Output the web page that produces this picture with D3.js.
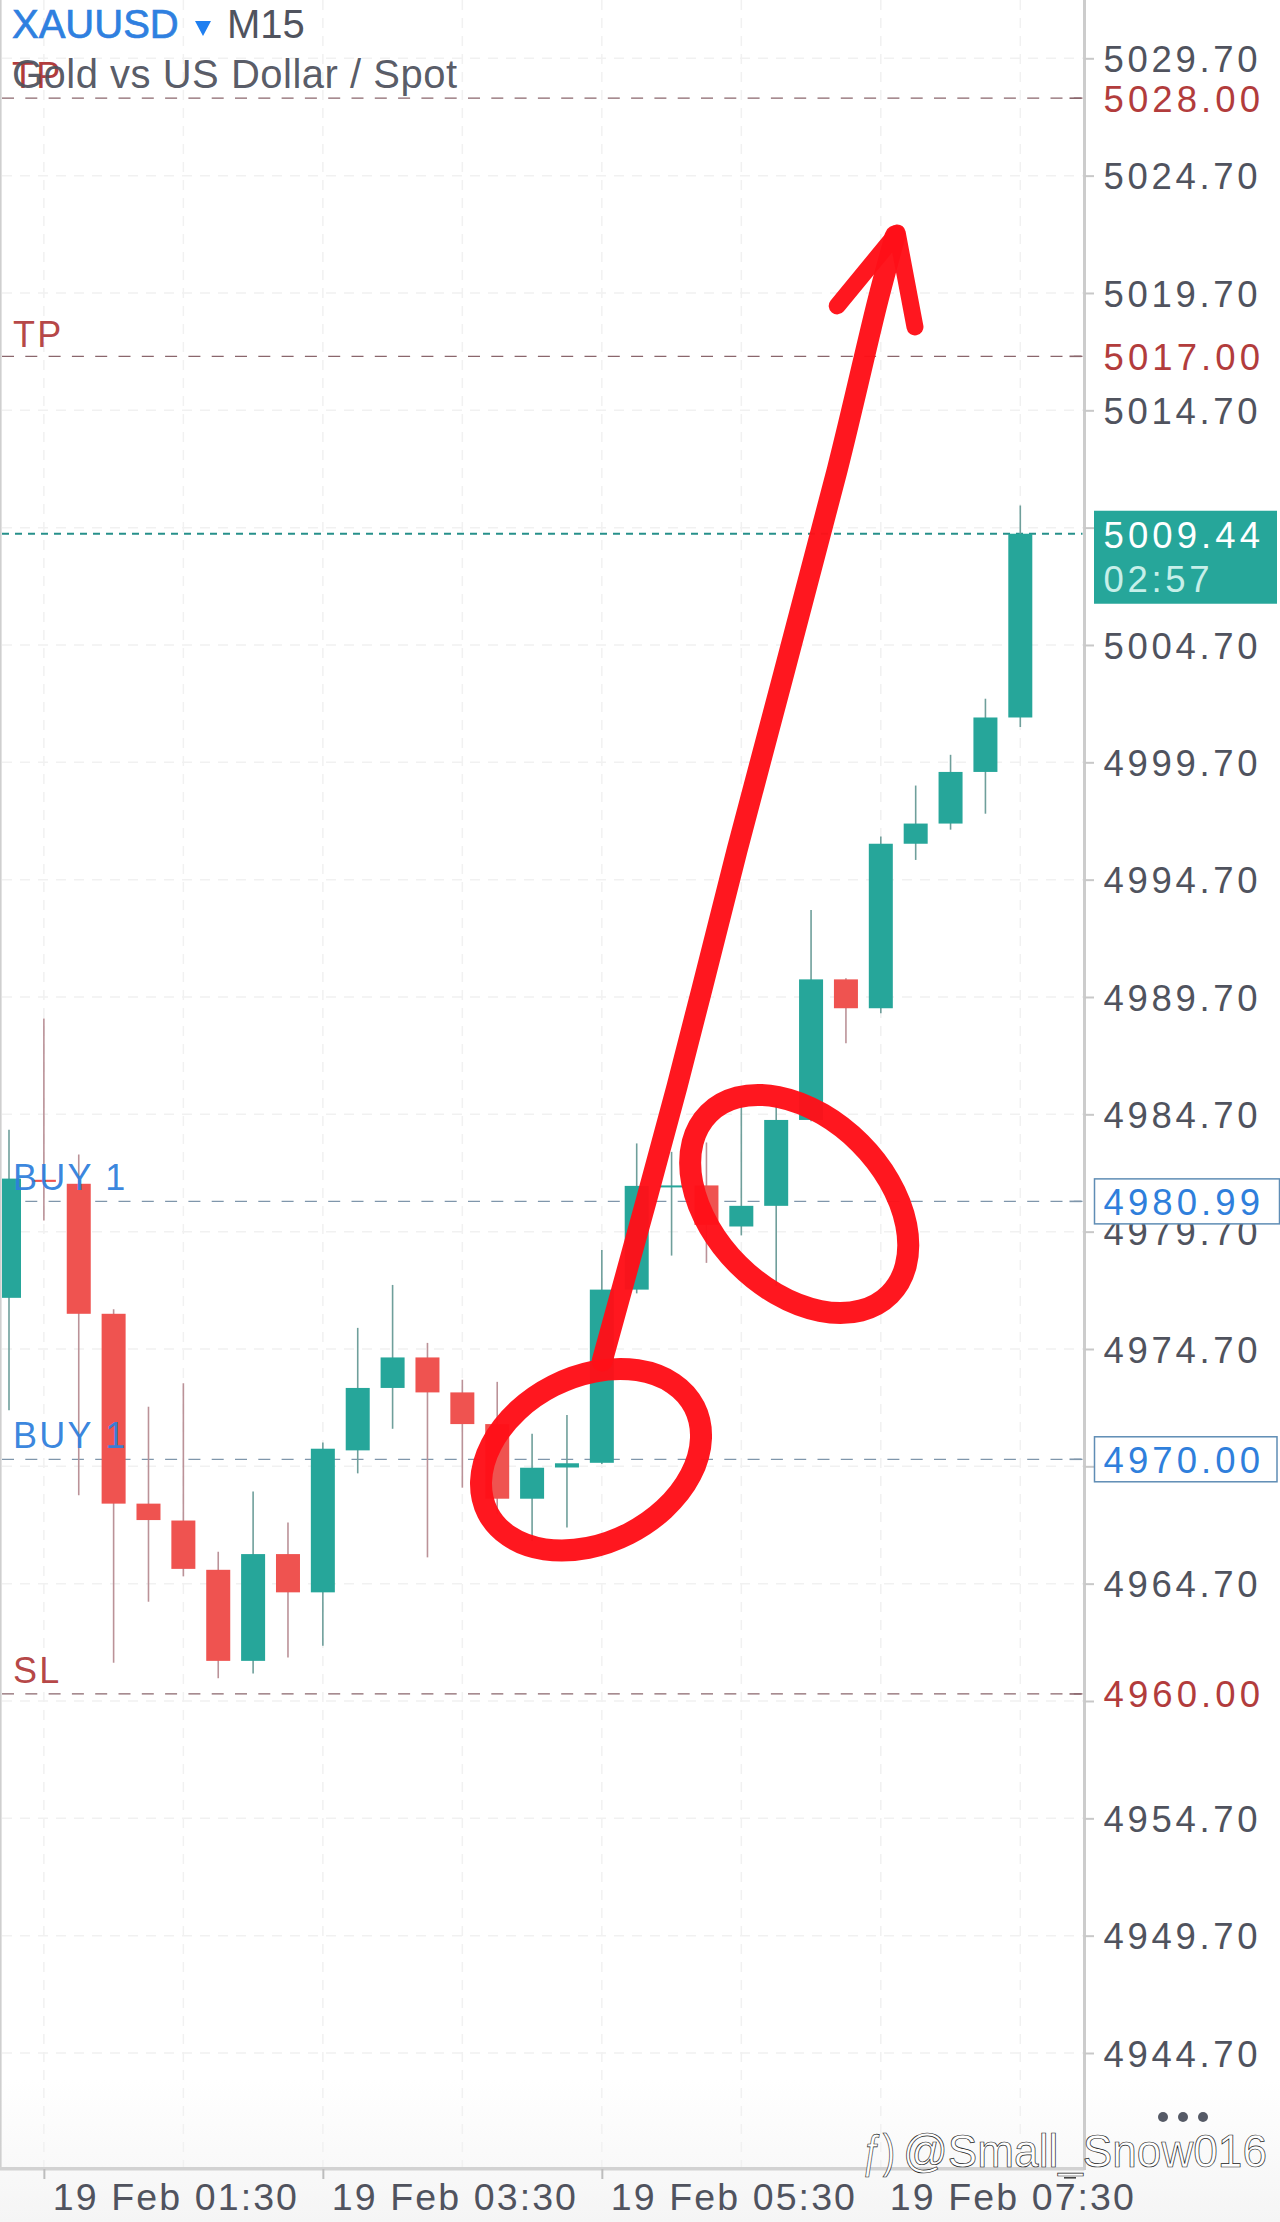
<!DOCTYPE html>
<html>
<head>
<meta charset="utf-8">
<script src="https://cdn.jsdelivr.net/npm/d3@7"></script>
<style>
html,body{margin:0;padding:0;background:#fff;}
svg{display:block;}
text{font-family:"Liberation Sans",Arial,sans-serif;}
</style>
</head>
<body>
<div id="chart"></div>
<script>
// ---- data ----
const opens  = [4976.88,4981.91,4981.74,4976.20,4968.11,4967.39,4965.29,4961.41,4965.96,4964.33,4970.38,4973.04,4974.34,4972.85,4971.50,4968.32,4969.65,4969.85,4977.23,4981.65,4981.67,4979.92,4980.80,4984.46,4990.45,4989.22,4996.23,4997.09,4999.29,5001.61];
const closes = [4981.96,4981.82,4976.20,4968.11,4967.41,4965.33,4961.41,4965.96,4964.33,4970.45,4973.04,4974.34,4972.85,4971.50,4968.32,4969.64,4969.83,4977.23,4981.65,4981.67,4979.99,4980.80,4984.46,4990.45,4989.22,4996.23,4997.09,4999.29,5001.61,5009.44];
const highs  = [4984.04,4988.78,4982.99,4976.39,4972.24,4973.24,4966.06,4968.63,4967.31,4970.72,4975.60,4977.43,4974.96,4973.39,4973.30,4971.09,4971.89,4978.92,4983.46,4983.10,4983.50,4985.11,4985.10,4993.41,4990.50,4996.54,4998.71,5000.02,5002.41,5010.64];
const lows   = [4972.09,4980.17,4968.47,4961.33,4963.93,4965.01,4960.67,4960.87,4961.55,4962.05,4969.40,4971.30,4965.82,4968.79,4967.65,4966.52,4967.09,4969.80,4977.07,4978.68,4978.37,4979.54,4977.37,4984.40,4987.73,4989.01,4995.54,4996.83,4997.51,5001.21];
const priceTicks = [5029.7,5024.7,5019.7,5014.7,5009.7,5004.7,4999.7,4994.7,4989.7,4984.7,4979.7,4974.7,4969.7,4964.7,4959.7,4954.7,4949.7,4944.7];
const hiddenPriceLabels = [5009.7,4969.7,4959.7]; // covered by price tags in the reference
const gridCandles = [1,5,9,13,17,21,25,29];
const timeCandles = [1,9,17,25];
const timeLabels = ["19 Feb 01:30","19 Feb 03:30","19 Feb 05:30","19 Feb 07:30"];
const orderLabels = ["TP","TP","BUY 1","BUY 1","SL"];
const orderPrices = [5028,5017,4980.99,4970,4960];
const orderKinds  = ["r","r","b","b","r"];
const lastPrice = 5009.44;
const countdown = "02:57";
// hand-drawn annotations, as [candle index, price]
const arrowShaft = [[17.01,4974.19],[19.16,4985.91],[20.88,4995.97],[23.75,5012.16],[24.92,5019.4],[25.41,5022.13]];
const arrowHead  = [[23.75,5019.15],[25.47,5022.26],[25.98,5018.25]];
const ringCentres = [[16.69,4969.98],[22.66,4980.88]];

// ---- layout ----
const W=1280,H=2222,axisX=1084.5,axisY=2169;
const t0 = Date.UTC(2026,1,19,1,15), step = 15*60*1000;
const dateOf = i => new Date(t0+i*step);
const x = d3.scaleUtc().domain([dateOf(0),dateOf(29)]).range([9,1020.3]);
const y = d3.scaleLinear().domain([5029.7,4944.7]).range([58.3,2053]);
const xi = i => x(dateOf(i));
const UP="#26a69a",DOWN="#ef5350",GREY="#50535e",RED="#b23c3c",BLUE="#2f7fdc";
const kindColor={r:RED,b:BLUE}, kindLine={r:"#8a666c",b:"#7f96ab"};

const svg=d3.select("#chart").append("svg").attr("width",W).attr("height",H);
const defs=svg.append("defs");
const lg=defs.append("linearGradient").attr("id","bot").attr("x1",0).attr("x2",0).attr("y1",0).attr("y2",1);
lg.append("stop").attr("offset",0).attr("stop-color","#fff");
lg.append("stop").attr("offset",1).attr("stop-color","#f5f5f5");
defs.append("clipPath").attr("id","plot").append("rect").attr("x",2).attr("y",0).attr("width",axisX-2).attr("height",axisY);
svg.append("rect").attr("width",W).attr("height",H).attr("fill","#fff");
svg.append("rect").attr("y",2080).attr("width",W).attr("height",142).attr("fill","url(#bot)");

// grid
const grid=svg.append("g").attr("stroke","#f1f1f1").attr("stroke-width",1.5).attr("stroke-dasharray","10 8");
grid.selectAll("line.h").data(priceTicks).join("line").attr("x1",2).attr("x2",axisX).attr("y1",d=>y(d)).attr("y2",d=>y(d));
grid.selectAll("line.v").data(gridCandles).join("line").attr("x1",xi).attr("x2",xi).attr("y1",0).attr("y2",axisY);

// order / price level lines
svg.append("g").selectAll("line").data(orderPrices).join("line")
  .attr("x1",2).attr("x2",axisX-2).attr("y1",d=>y(d)).attr("y2",d=>y(d))
  .attr("stroke",(d,i)=>kindLine[orderKinds[i]]).attr("stroke-width",1.2).attr("stroke-dasharray","12 11.3");
svg.append("line").attr("x1",2).attr("x2",axisX-2).attr("y1",y(lastPrice)).attr("y2",y(lastPrice))
  .attr("stroke","#26908a").attr("stroke-width",2).attr("stroke-dasharray","7 6");

// candles
const candles=svg.append("g").attr("clip-path","url(#plot)");
const idx=d3.range(opens.length);
candles.selectAll("line").data(idx).join("line")
  .attr("x1",xi).attr("x2",xi).attr("y1",i=>y(highs[i])).attr("y2",i=>y(lows[i]))
  .attr("stroke",i=>closes[i]>=opens[i]?"#6f9f9b":"#bb9298").attr("stroke-width",1.6);
candles.selectAll("rect").data(idx).join("rect")
  .attr("x",i=>xi(i)-12).attr("width",24)
  .attr("y",i=>Math.min(y(opens[i]),y(closes[i])))
  .attr("height",i=>Math.max(2,Math.abs(y(opens[i])-y(closes[i]))))
  .attr("fill",i=>closes[i]>=opens[i]?UP:DOWN);

// frame
svg.append("rect").attr("x",0).attr("y",0).attr("width",1.6).attr("height",axisY).attr("fill","#cfcfcf");
svg.append("rect").attr("x",0).attr("y",axisY-2).attr("width",axisX).attr("height",3.5).attr("fill","#d2d2d2");
svg.append("rect").attr("x",axisX-1.5).attr("y",0).attr("width",3).attr("height",axisY+1).attr("fill","#cccccc");

// price axis
const yAxis=d3.axisRight(y).tickValues(priceTicks).tickSize(9.5).tickPadding(9.5).tickFormat(d3.format(".2f"));
const gy=svg.append("g").attr("transform",`translate(${axisX},0)`).call(yAxis);
gy.select(".domain").remove();
gy.selectAll("line").attr("stroke","#c8c8c8").attr("stroke-width",2);
gy.selectAll(".tick").filter(d=>hiddenPriceLabels.includes(d)).select("text").remove();
gy.selectAll("text").attr("fill",GREY).style("font-size","36.5px").style("letter-spacing","3.7px").attr("dy","0.36em");

// time axis
const xAxis=d3.axisBottom(x).tickValues(timeCandles.map(dateOf)).tickSize(10).tickPadding(0).tickFormat((d,i)=>timeLabels[i]);
const gx=svg.append("g").attr("transform",`translate(0,${axisY})`).call(xAxis);
gx.select(".domain").remove();
gx.selectAll("line").attr("stroke","#bdbdbd").attr("stroke-width",2);
gx.selectAll(".tick").filter((d,i)=>i===3).select("line").remove();
gx.selectAll("text").attr("fill",GREY).attr("text-anchor","start").attr("x",8.5).attr("y",41).attr("dy",0)
  .style("font-size","37.5px").style("letter-spacing","2.1px");
svg.append("rect").attr("x",1064).attr("y",2177).attr("width",12).attr("height",1.6).attr("fill","#444");

// order price tags
const tag=svg.append("g");
orderPrices.forEach((p,i)=>{
  const k=orderKinds[i];
  if(k==="b"){
    tag.append("rect").attr("x",1094.5).attr("y",y(p)-22.5).attr("width",p>4975?185:182.5).attr("height",45)
      .attr("fill","#fff").attr("stroke","#5f8db5").attr("stroke-width",1.5);
  }
  tag.append("text").attr("x",1103.5).attr("y",y(p)).attr("dy","0.37em").attr("fill",kindColor[k])
    .style("font-size","36.5px").style("letter-spacing","4.1px").text(p.toFixed(2));
  tag.append("line").attr("x1",axisX-15).attr("x2",axisX-3).attr("y1",y(p)).attr("y2",y(p)).attr("stroke",kindLine[k]).attr("stroke-width",1.6);
});

// last price tag
tag.append("rect").attr("x",1094).attr("y",y(lastPrice)-23).attr("width",183).attr("height",93).attr("fill",UP);
tag.append("text").attr("x",1103.5).attr("y",y(lastPrice)+14).attr("fill","#fff").style("font-size","36.5px").style("letter-spacing","4.1px").text(lastPrice.toFixed(2));
tag.append("text").attr("x",1103.5).attr("y",y(lastPrice)+58).attr("fill","#c6efe9").style("font-size","36.5px").style("letter-spacing","3.7px").text(countdown);

// header
svg.append("text").attr("x",12).attr("y",38).attr("fill","#2f80e0").attr("stroke","#2f80e0").attr("stroke-width",0.7).style("font-size","40px").text("XAUUSD");
svg.append("path").attr("d",d3.line()([[195,21],[211,21],[203,36]])+"Z").attr("fill","#1f7ff0");
svg.append("text").attr("x",227).attr("y",38).attr("fill",GREY).style("font-size","40px").text("M15");
svg.append("text").attr("x",12).attr("y",88).attr("fill",RED).style("font-size","36px").style("letter-spacing","2.2px").text(orderLabels[0]);
svg.append("text").attr("x",12).attr("y",88).attr("fill",GREY).attr("fill-opacity",0.95).style("font-size","40px").style("letter-spacing","0.5px").text("Gold vs US Dollar / Spot");

// order labels
const labelBase=[88,347,1190,1448,1683];
orderLabels.forEach((t,i)=>{
  if(i===0) return;
  svg.append("text").attr("x",13).attr("y",labelBase[i]).attr("fill",kindColor[orderKinds[i]]).attr("fill-opacity",0.95)
    .style("font-size","36px").style("letter-spacing","2.2px").text(t);
});

// hand-drawn annotations
const px=d=>[xi(d[0]),y(d[1])];
const ann=svg.append("g").attr("fill","none").attr("stroke","#ff1018").attr("stroke-linecap","round").attr("stroke-linejoin","round").attr("stroke-opacity",0.97);
const ringShape=[[116,83,-27],[128,86,45]];
ringCentres.forEach((c,i)=>{
  const [cx,cy]=px(c),[a,b,rot]=ringShape[i];
  ann.append("ellipse").attr("cx",cx).attr("cy",cy).attr("rx",a).attr("ry",b)
    .attr("transform",`rotate(${rot} ${cx} ${cy})`).attr("stroke-width",22);
});
ann.append("path").attr("d",d3.line().curve(d3.curveCatmullRom.alpha(0.5))(arrowShaft.map(px))).attr("stroke-width",21);
ann.append("path").attr("d",d3.line()(arrowHead.map(px))).attr("stroke-width",17);

// more button
svg.append("g").selectAll("circle").data([0,1,2]).join("circle").attr("cx",d=>1163+d*20).attr("cy",2117).attr("r",5).attr("fill","#555a66");

// watermark
const wm=["ƒ)","@Small_Snow016"], wmX=[862,903], wmLen=[33,364];
wm.forEach((t,i)=>{
  svg.append("text").attr("x",wmX[i]).attr("y",2167).attr("fill","#fff").attr("stroke","#222").attr("stroke-width",0.7)
    .style("font-size","46px").attr("textLength",wmLen[i]).attr("lengthAdjust","spacingAndGlyphs").text(t);
});
</script>
</body>
</html>
